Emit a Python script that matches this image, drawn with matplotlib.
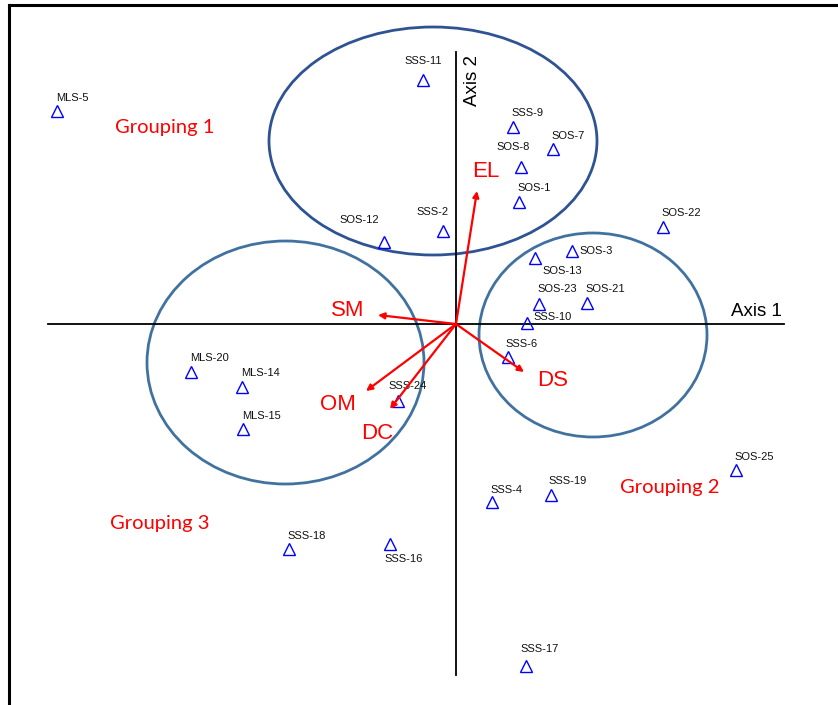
import matplotlib
matplotlib.use("Agg")
import matplotlib.pyplot as plt
from matplotlib.patches import Ellipse
from matplotlib.lines import Line2D

# ---- data (ordination scores) ----
sites = ["MLS-5", "SSS-11", "SSS-9", "SOS-8", "SOS-7", "SOS-1", "SSS-2", "SOS-12",
         "SOS-22", "SOS-3", "SOS-13", "SOS-23", "SOS-21", "SSS-10", "SSS-6", "SSS-24",
         "MLS-20", "MLS-14", "MLS-15", "SSS-18", "SSS-16", "SSS-4", "SSS-19", "SOS-25", "SSS-17"]
axis1 = [-3.99, -0.33, 0.57, 0.65, 0.97, 0.63, -0.13, -0.72,
         2.07, 1.16, 0.79, 0.83, 1.31, 0.71, 0.52, -0.58,
         -2.65, -2.14, -2.13, -1.67, -0.66, 0.36, 0.95, 2.80, 0.70]
axis2 = [2.13, 2.44, 1.97, 1.57, 1.75, 1.22, 0.93, 0.82,
         0.97, 0.73, 0.66, 0.20, 0.21, 0.01, -0.33, -0.77,
         -0.48, -0.63, -1.05, -2.25, -2.20, -1.78, -1.71, -1.46, -3.42]

variables = ["EL", "SM", "OM", "DC", "DS"]
var_axis1 = [0.21, -0.78, -0.90, -0.66, 0.68]
var_axis2 = [1.33, 0.09, -0.67, -0.85, -0.48]

groups = ["Grouping 1", "Grouping 2", "Grouping 3"]
group_cx = [-0.23, 1.37, -1.705]
group_cy = [1.83, -0.11, -0.385]
group_w = [3.28, 2.28, 2.77]
group_h = [2.28, 2.04, 2.43]

# ---- styling / label offsets (pixels) ----
site_offsets = {
    "MLS-5": (15, 13), "SSS-11": (0, 19), "SSS-9": (14, 14), "SOS-8": (-8, 20),
    "SOS-7": (15, 13), "SOS-1": (15, 14), "SSS-2": (-10, 19), "SOS-12": (-25, 22),
    "SOS-22": (18, 14), "SOS-3": (24, 0), "SOS-13": (27, -13), "SOS-23": (18, 15),
    "SOS-21": (18, 14), "SSS-10": (26, 6), "SSS-6": (14, 13), "SSS-24": (10, 15),
    "MLS-20": (18, 14), "MLS-14": (18, 14), "MLS-15": (18, 13), "SSS-18": (18, 13),
    "SSS-16": (14, -15), "SSS-4": (14, 12), "SSS-19": (17, 14), "SOS-25": (18, 13),
    "SSS-17": (14, 17),
}
var_label_pos = {"EL": (0.30, 1.53), "SM": (-1.08, 0.14), "OM": (-1.18, -0.80),
                 "DC": (-0.79, -1.09), "DS": (0.97, -0.56)}
group_label_pos = {"Grouping 1": (-2.91, 1.91), "Grouping 2": (2.14, -1.69),
                   "Grouping 3": (-2.96, -2.05)}
group_colors = ["#2F5392", "#41729F", "#41729F"]

W, H = 838, 705
fig = plt.figure(figsize=(W / 100, H / 100), dpi=100)
ax = fig.add_axes([0, 0, 1, 1])
ax.set_xlim(-4.56, 3.82)
ax.set_ylim(-3.81, 3.24)
ax.axis("off")

# frame (left and top)
fig.add_artist(Line2D([9 / W, 9 / W], [0, 1 - 5 / H], color="black", lw=2.2,
                      transform=fig.transFigure))
fig.add_artist(Line2D([9 / W, 1], [1 - 5 / H, 1 - 5 / H], color="black", lw=2.2,
                      transform=fig.transFigure))

# ordination axes
ax.plot([-4.08, 3.28], [0, 0], color="black", lw=1.3)
ax.plot([0, 0], [2.72, -3.51], color="black", lw=1.3)
ax.text(3.26, 0.08, "Axis 1", fontsize=13.5, family="Liberation Sans",
        ha="right", va="baseline")
ax.text(0.16, 2.44, "Axis 2", fontsize=13.5, family="Liberation Sans",
        rotation=90, ha="center", va="center")

# grouping ellipses
for cx, cy, w, h, c in zip(group_cx, group_cy, group_w, group_h, group_colors):
    ax.add_patch(Ellipse((cx, cy), w, h, fill=False, edgecolor=c, lw=2.0))
for g in groups:
    x, y = group_label_pos[g]
    ax.text(x, y, g, color="#FF0000", fontsize=14.5, family="Lato",
            ha="center", va="baseline")

# sites
ax.plot(axis1, axis2, linestyle="none", marker="^", markersize=8,
        markerfacecolor="none", markeredgecolor="#0000FF", markeredgewidth=1.0)
for name, x, y in zip(sites, axis1, axis2):
    dx, dy = site_offsets[name]
    ax.annotate(name, (x, y), xytext=(dx, dy), textcoords="offset pixels",
                ha="center", va="center", fontsize=8, family="Liberation Sans",
                color="#111111")

# environmental vectors
for v, x, y in zip(variables, var_axis1, var_axis2):
    ax.annotate("", xy=(x, y), xytext=(0, 0),
                arrowprops=dict(arrowstyle="-|>", color="#FF0000", lw=1.6,
                                mutation_scale=9, shrinkA=0, shrinkB=0))
    lx, ly = var_label_pos[v]
    ax.text(lx, ly, v, color="#FF0000", fontsize=16, family="Liberation Sans",
            ha="center", va="center")

fig.savefig("out.png", dpi=100)
